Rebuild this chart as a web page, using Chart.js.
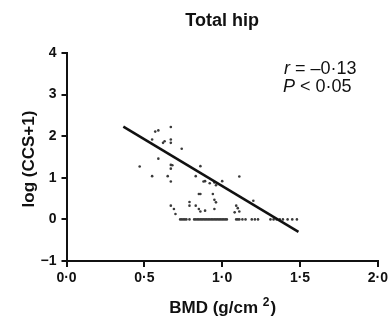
<!DOCTYPE html>
<html>
<head>
<meta charset="utf-8">
<script src="https://cdn.jsdelivr.net/npm/chart.js@4.4.1/dist/chart.umd.min.js"></script>
<style>
  html,body{margin:0;padding:0;background:#fff;}
  #wrap{width:391px;height:321px;position:relative;}
</style>
</head>
<body>
<div id="wrap"><canvas id="chart" width="391" height="321"></canvas></div>
<script>
// ================= Data =================
const chartTitle = 'Total hip';
const xTitle = ['BMD (g/cm', '2', ')'];   // base, superscript, tail
const yTitle = 'log (CCS+1)';
const xTickLabels = ['0·0','0·5','1·0','1·5','2·0'];
const yTickLabels = ['−1','0','1','2','3','4'];
const statLines = ['r = –0·13', 'P < 0·05'];

// scattered points (BMD, log(CCS+1))
const bmd = [0.57,0.59,0.67,0.55,0.62,0.63,0.67,0.67,0.74,0.59,0.47,0.67,0.68,0.67,0.55,0.65,0.67,
             0.86,0.83,0.88,0.89,0.92,0.95,0.96,1.00,1.11,0.85,0.86,0.94,0.95,0.96,1.20,
             0.67,0.69,0.70,0.79,0.79,0.83,0.85,0.86,0.89,0.95,1.09,1.10,1.11,1.08];
const ccs = [2.11,2.14,2.22,1.92,1.84,1.88,1.92,1.84,1.70,1.46,1.27,1.31,1.30,1.22,1.04,1.04,0.91,
             1.28,1.04,0.91,0.92,0.87,0.89,0.82,0.92,1.03,0.61,0.61,0.61,0.47,0.41,0.45,
             0.33,0.25,0.13,0.42,0.33,0.33,0.25,0.19,0.21,0.25,0.33,0.27,0.19,0.17];
// points sitting on zero
const bmdZero = [0.73,0.74,0.75,0.76,0.77,0.79,0.82,0.83,0.84,0.85,0.86,0.87,0.88,0.89,0.90,0.91,0.92,0.93,0.94,
                 0.95,0.96,0.97,0.98,0.99,1.00,1.01,1.02,1.03,1.09,1.10,1.11,1.13,1.15,1.19,1.21,1.23,
                 1.31,1.33,1.35,1.37,1.39,1.42,1.45,1.48];
// regression line end points
const fitX = [0.365, 1.49];
const fitY = [2.23, -0.30];

const FONT = '"Liberation Sans", Arial, sans-serif';

const pts = bmd.map((x,i)=>({x:x,y:ccs[i]})).concat(bmdZero.map(x=>({x:x,y:0})));
const fit = fitX.map((x,i)=>({x:x,y:fitY[i]}));

// ================= Text overlay =================
function italicLead(ctx, text, x, y){
    // first character italic (r, P), rest upright
    ctx.font = 'italic 18px ' + FONT;
    ctx.fillText(text[0], x, y);
    const w = ctx.measureText(text[0]).width;
    ctx.font = '18px ' + FONT;
    ctx.fillText(text.slice(1), x + w, y);
}

const textPlugin = {
  id:'texts',
  afterDraw(chart){
    const ctx = chart.ctx, a = chart.chartArea;
    const cx = (a.left + a.right)/2;
    ctx.save();
    ctx.fillStyle = '#111';
    ctx.textBaseline = 'alphabetic';
    // title
    ctx.font = 'bold 18px ' + FONT;
    ctx.textAlign = 'center';
    ctx.fillText(chartTitle, cx, 26);
    // x title with superscript
    ctx.textAlign = 'left';
    ctx.font = 'bold 17px ' + FONT;
    const w0 = ctx.measureText(xTitle[0] + ' ').width;
    const w2 = ctx.measureText(xTitle[2]).width;
    ctx.font = 'bold 12px ' + FONT;
    const w1 = ctx.measureText(xTitle[1]).width;
    let x0 = cx - (w0 + w1 + w2)/2;
    ctx.font = 'bold 17px ' + FONT;
    ctx.fillText(xTitle[0], x0, 313);
    ctx.font = 'bold 12px ' + FONT;
    ctx.fillText(xTitle[1], x0 + w0, 306);
    ctx.font = 'bold 17px ' + FONT;
    ctx.fillText(xTitle[2], x0 + w0 + w1 + 1, 313);
    // y title
    ctx.save();
    ctx.translate(34, 159);
    ctx.rotate(-Math.PI/2);
    ctx.textAlign = 'center';
    ctx.fillText(yTitle, 0, 0);
    ctx.restore();
    // stats
    ctx.textAlign = 'left';
    italicLead(ctx, statLines[0], 284, 74);
    italicLead(ctx, statLines[1], 283, 92);
    ctx.restore();
  }
};

// ================= Chart =================
new Chart(document.getElementById('chart').getContext('2d'), {
  type:'scatter',
  data:{
    datasets:[
      {type:'line', data:fit, borderColor:'#111', borderWidth:2.5, pointRadius:0, fill:false},
      {data:pts, backgroundColor:'#3a3a3a', borderColor:'#3a3a3a', pointRadius:1.3, borderWidth:0}
    ]
  },
  options:{
    responsive:false,
    animation:false,
    layout:{padding:{left:0, right:11, top:53, bottom:0}},
    plugins:{legend:{display:false}, tooltip:{enabled:false}},
    scales:{
      x:{
        type:'linear', min:0, max:2,
        afterFit(scale){ scale.height = 60; },
        border:{color:'#111', width:2},
        grid:{drawOnChartArea:false, drawTicks:true, tickLength:6, color:'#111', lineWidth:2},
        ticks:{stepSize:0.5, padding:3, color:'#111', font:{family:FONT, size:14, weight:'bold'},
               callback:(v,i)=>xTickLabels[i]}
      },
      y:{
        type:'linear', min:-1, max:4,
        afterFit(scale){ scale.width = 66.5; },
        border:{color:'#111', width:2},
        grid:{drawOnChartArea:false, drawTicks:true, tickLength:5, color:'#111', lineWidth:2},
        ticks:{stepSize:1, padding:5, color:'#111', font:{family:FONT, size:14, weight:'bold'},
               callback:(v,i)=>yTickLabels[i]}
      }
    }
  },
  plugins:[textPlugin]
});
</script>
</body>
</html>
